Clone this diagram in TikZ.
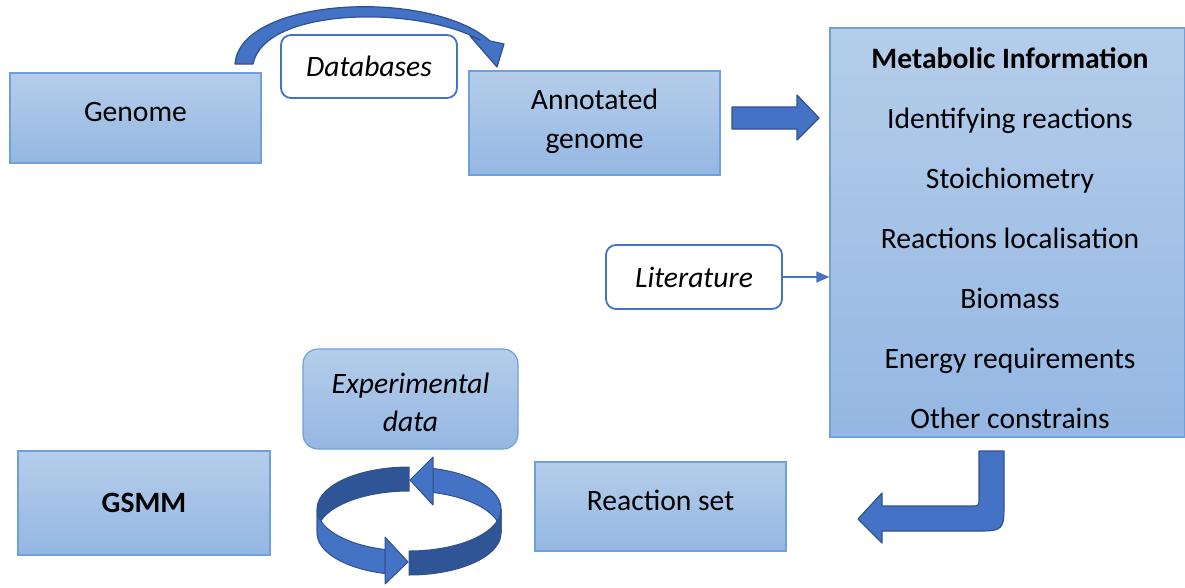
\documentclass[tikz,border=0pt]{standalone}
\usepackage{fontspec}
\setmainfont{Carlito}
\usetikzlibrary{arrows.meta}
\definecolor{boxtop}{HTML}{B5CDEA}
\definecolor{boxbot}{HTML}{94B7E3}
\definecolor{boxline}{HTML}{6FA0DC}
\definecolor{accent}{HTML}{4472C4}
\definecolor{accentdark}{HTML}{2F528F}
\definecolor{ringdark}{HTML}{2F5597}
\tikzset{
  txt/.style={font=\fontsize{29.6}{39}\selectfont, align=center, text=black},
  bluebox/.style={txt, draw=boxline, line width=1.2pt, top color=boxtop, bottom color=boxbot, inner sep=0pt},
  whitebox/.style={txt, draw=accent, line width=1.8pt, fill=white, rounded corners=10pt, inner sep=0pt, font=\fontsize{29.6}{39}\selectfont\itshape},
  blockarrow/.style={fill=accent, draw=accentdark, line width=1.2pt, line join=round},
  ringback/.style={fill=ringdark, draw=accentdark, line width=1pt, line join=round},
  ringfront/.style={fill=accent, draw=accentdark, line width=1pt, line join=round},
  litarrow/.style={draw=accent, line width=1.2pt, -{Triangle[length=13pt,width=11pt]}}
}
\begin{document}
\begin{tikzpicture}[x=1pt,y=-1pt]
\useasboundingbox (0,0) rectangle (1185,587);
% boxes
\node[bluebox, minimum width=251pt, minimum height=90pt] (genome) at (135.5,118) {};
\node[txt] (genometext) at (135.5,112) {Genome};
\node[whitebox, minimum width=176pt, minimum height=63pt] (db) at (369,66.5) {Databases};
\node[bluebox, minimum width=251pt, minimum height=104pt] (ann) at (594.5,123) {};
\node[txt] (anntext) at (594.5,121.5) {Annotated\\genome};
\node[bluebox, minimum width=355pt, minimum height=409pt] (meta) at (1007.5,232.5) {};
\node[txt, font=\fontsize{29.6}{60}\selectfont] (metatext) at (1010,238) {\textbf{Metabolic Information}\\Identifying reactions\\Stoichiometry\\Reactions localisation\\Biomass\\Energy requirements\\Other constrains};
\node[whitebox, minimum width=176pt, minimum height=64pt] (lit) at (694,277) {Literature};
\node[bluebox, rounded corners=15pt, minimum width=215pt, minimum height=100pt] (exp) at (410.5,399) {};
\node[txt, font=\fontsize{29.6}{38}\selectfont\itshape] (exptext) at (410.5,402) {Experimental\\data};
\node[bluebox, minimum width=252pt, minimum height=104pt, font=\fontsize{29.6}{39}\selectfont\bfseries] (gsmm) at (144,503) {GSMM};
\node[bluebox, minimum width=251pt, minimum height=89pt] (rset) at (660.5,506.5) {};
\node[txt] (rsettext) at (660.5,500) {Reaction set};
% literature connector
\draw[litarrow] (lit.east) -- (lit.east -| meta.west);
% curved arrow over Databases
\path[blockarrow] (235,64) .. controls (240,-3) and (430,-12) .. (490,41)
  -- (504,44) -- (497,67) -- (470,36) -- (480,40)
  .. controls (420,6) and (265,6) .. (253,64) -- cycle;
% right block arrow
\path[blockarrow] (732,107) -- (797,107) -- (797,95) -- (819,118) -- (797,140) -- (797,129) -- (732,129) -- cycle;
% bent arrow
\path[blockarrow] (979,451) -- (1004,451) -- (1004,501) .. controls (1004,531) .. (974,531)
  -- (882,531) -- (882,543) -- (858,519) -- (882,493) -- (882,506) -- (971,506)
  .. controls (979,506) .. (979,498) -- cycle;
% circular arrows: back parts
\path[ringback] plot[domain=90:180, samples=30] ({409+92*cos(\x)},{509-42*sin(\x)})
  -- plot[domain=180:90, samples=30] ({409+92*cos(\x)},{533-42*sin(\x)}) -- cycle;
\path[ringfront] plot[domain=0:75, samples=30] ({409+92*cos(\x)},{509-42*sin(\x)})
  -- plot[domain=75:0, samples=30] ({409+92*cos(\x)},{533-42*sin(\x)}) -- cycle;
\path[ringfront] (433,457) -- (410,480) -- (433,505) -- cycle;
% front parts
\path[ringfront] plot[domain=180:255, samples=30] ({409+92*cos(\x)},{509-42*sin(\x)})
  -- plot[domain=255:180, samples=30] ({409+92*cos(\x)},{533-42*sin(\x)}) -- cycle;
\path[ringfront] (385,537) -- (408,562) -- (385,584) -- cycle;
\path[ringback] plot[domain=270:360, samples=30] ({409+92*cos(\x)},{509-42*sin(\x)})
  -- plot[domain=360:270, samples=30] ({409+92*cos(\x)},{533-42*sin(\x)}) -- cycle;
\end{tikzpicture}
\end{document}
